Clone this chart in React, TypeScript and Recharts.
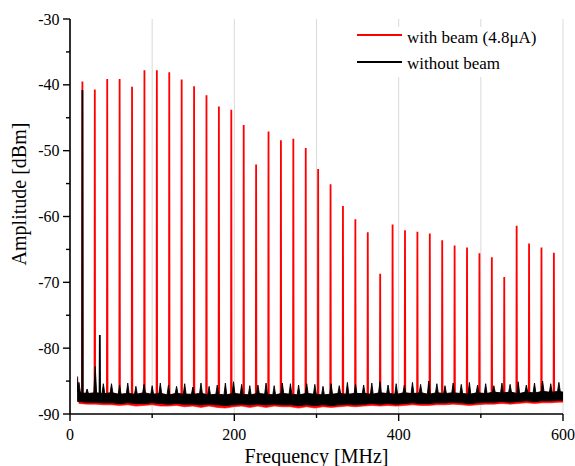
import React from 'react';
import { ComposedChart, Area, XAxis, YAxis, CartesianGrid, Legend } from 'recharts';

const FONT = '"Liberation Serif", "Times New Roman", Times, serif';

// Beam harmonics (red spikes)
const redFreq = [15.1, 30.2, 45.3, 60.4, 75.5, 90.6, 105.7, 120.8, 135.9, 151.0, 166.1, 181.2, 196.3, 211.4, 226.5, 241.6, 256.7, 271.8, 286.9, 302.0, 317.1, 332.2, 347.3, 362.4, 377.5, 392.6, 407.7, 422.8, 437.9, 453.0, 468.1, 483.2, 498.3, 513.4, 528.5, 543.6, 558.7, 573.8, 588.9];
const redPeak = [-39.5, -40.7, -39.1, -39.1, -40.3, -37.8, -37.8, -38.1, -39.2, -40.2, -41.6, -43.3, -43.8, -46.1, -52.1, -47.1, -48.4, -48.2, -49.6, -52.8, -55.1, -58.4, -60.4, -62.4, -68.7, -61.2, -62.1, -62.3, -62.6, -63.6, -64.4, -64.7, -65.6, -66.2, -69.2, -61.4, -64.1, -64.7, -65.5];

// Spikes without beam
const blackSpikeFreq = [15.1, 36.3];
const blackSpikePeak = [-40.8, -78.0];

const spikeBase = -87.5;

// Noise floor, sampled at the small periodic bumps
const bumpFreq = [10.9, 20.8, 30.7, 40.6, 50.5, 60.4, 70.3, 80.2, 90.1, 100.0,
  109.9, 119.8, 129.7, 139.6, 149.5, 159.4, 169.3, 179.2, 189.1, 199.0,
  208.9, 218.8, 228.7, 238.6, 248.5, 258.4, 268.3, 278.2, 288.1, 298.0,
  307.9, 317.8, 327.7, 337.6, 347.5, 357.4, 367.3, 377.2, 387.1, 397.0,
  406.9, 416.8, 426.7, 436.6, 446.5, 456.4, 466.3, 476.2, 486.1, 496.0,
  505.9, 515.8, 525.7, 535.6, 545.5, 555.4, 565.3, 575.2, 585.1, 595.0];
const blackPeak = [-85.2, -86.2, -82.8, -85.4, -85.4, -85.6, -85.3, -85.8, -85.5, -85.7,
  -85.3, -85.6, -85.8, -85.4, -85.9, -85.3, -85.8, -85.6, -85.3, -85.1,
  -85.5, -85.7, -85.6, -85.3, -85.7, -85.3, -85.4, -85.6, -85.4, -85.5,
  -85.8, -85.4, -85.7, -85.2, -85.5, -85.6, -85.3, -85.1, -85.6, -85.4,
  -85.6, -85.2, -85.5, -85.0, -85.4, -85.7, -85.3, -85.5, -85.2, -85.6,
  -85.4, -85.7, -85.3, -85.5, -85.1, -85.6, -85.3, -85.0, -85.4, -85.2];
const blackValley = [-86.7, -86.9, -86.8, -86.9,
  -86.8, -87.0, -86.9, -87.0, -86.8, -87.0, -86.9, -87.1, -86.9, -87.0,
  -87.0, -86.9, -87.1, -87.0, -87.1, -86.9, -87.0, -87.1, -86.9, -87.0, -87.1, -86.9,
  -87.0, -87.1, -86.9, -87.0, -87.1, -87.0, -86.9, -87.0, -86.9,
  -86.9, -87.0, -86.8, -86.9, -87.0, -86.8, -86.9, -86.8, -87.0, -86.8,
  -86.9, -86.8, -86.9, -87.0, -86.8, -86.9, -86.7,
  -86.8, -86.7, -86.9, -86.7, -86.8, -86.6, -86.7, -86.6];
const blackFloor = [-88.1, -88.2, -88.2, -88.3,
  -88.3, -88.4, -88.3, -88.4, -88.4, -88.3, -88.4, -88.5, -88.4, -88.5,
  -88.5, -88.6, -88.5, -88.6, -88.7, -88.6, -88.5, -88.6, -88.5, -88.6, -88.5, -88.6,
  -88.6, -88.7, -88.6, -88.7, -88.6, -88.7, -88.6, -88.5, -88.6,
  -88.5, -88.4, -88.5, -88.4, -88.5, -88.4, -88.3, -88.4, -88.4, -88.3,
  -88.3, -88.2, -88.3, -88.4, -88.3, -88.2, -88.2,
  -88.1, -88.2, -88.1, -88.0, -88.1, -88.0, -88.0, -87.9];
const redFloor = [-88.4, -88.5, -88.5, -88.6,
  -88.6, -88.7, -88.6, -88.8, -88.7, -88.6, -88.8, -88.8, -88.7, -88.9,
  -88.8, -89.0, -88.8, -89.0, -89.1, -88.9, -88.8, -89.0, -88.8, -89.0, -88.8, -88.9,
  -88.9, -89.1, -88.9, -89.1, -88.9, -89.0, -88.9, -88.8, -88.9,
  -88.8, -88.7, -88.8, -88.7, -88.8, -88.7, -88.6, -88.7, -88.7, -88.6,
  -88.6, -88.5, -88.6, -88.7, -88.6, -88.5, -88.5,
  -88.4, -88.5, -88.4, -88.3, -88.4, -88.3, -88.3, -88.2];

// Start / end of the sweep
const blackStart = { f: 9.3, lo: -85.2, hi: -84.3 };
const redStart = { f: 9.2, lo: -85.6, hi: -84.6 };
const blackEnd = { f: 600, lo: -87.9, hi: -86.7 };
const redEnd = { f: 600, lo: -88.2, hi: -86.7 };

const bumpHalfWidth = 1.7;
const spikeHalfWidth = 0.35;

const xTicks = [0, 100, 200, 300, 400, 500, 600];
const xLabeled = [0, 200, 400, 600];
const yTicks = [-90, -85, -80, -75, -70, -65, -60, -55, -50, -45, -40, -35, -30];
const yLabeled = [-90, -80, -70, -60, -50, -40, -30];

// Tables built from the arrays
const blackBand = [
  { f: blackStart.f, range: [blackStart.lo, blackStart.hi] },
  ...bumpFreq.flatMap((f, k) => [
    { f: f - bumpHalfWidth, range: [blackFloor[k], blackValley[k]] },
    { f, range: [blackFloor[k], blackPeak[k]] },
    { f: f + bumpHalfWidth, range: [blackFloor[k], blackValley[k]] },
  ]),
  { f: blackEnd.f, range: [blackEnd.lo, blackEnd.hi] },
];
const redBand = [
  { f: redStart.f, range: [redStart.lo, redStart.hi] },
  ...bumpFreq.map((f, k) => ({ f, range: [redFloor[k], blackValley[k]] })),
  { f: redEnd.f, range: [redEnd.lo, redEnd.hi] },
];
const spikeRows = (freqs: number[], peaks: number[]) =>
  freqs.flatMap((f, i) => [
    { f: f - spikeHalfWidth, range: [spikeBase, spikeBase] },
    { f, range: [spikeBase, peaks[i]] },
    { f: f + spikeHalfWidth, range: [spikeBase, spikeBase] },
  ]);
const redSpikes = spikeRows(redFreq, redPeak);
const blackSpikes = spikeRows(blackSpikeFreq, blackSpikePeak);

const BottomTick = (props: any) => {
  const { x, y, payload } = props;
  const major = xLabeled.includes(payload.value);
  return (
    <g>
      <line x1={x} x2={x} y1={y} y2={y + (major ? 7 : 4)} stroke="#000" strokeWidth={1.4} />
      {major && (
        <text x={x} y={y + 26} textAnchor="middle" fontSize={16} fontFamily={FONT} fill="#000">
          {payload.value}
        </text>
      )}
    </g>
  );
};
const TopTick = (props: any) => {
  const { x, y, payload } = props;
  const major = xLabeled.includes(payload.value);
  return <line x1={x} x2={x} y1={y} y2={y + (major ? 7 : 4)} stroke="#000" strokeWidth={1.4} />;
};
const LeftTick = (props: any) => {
  const { x, y, payload } = props;
  const major = yLabeled.includes(payload.value);
  return (
    <g>
      <line x1={x - (major ? 7 : 4)} x2={x} y1={y} y2={y} stroke="#000" strokeWidth={1.4} />
      {major && (
        <text x={x - 10.5} y={y + 5.5} textAnchor="end" fontSize={16} fontFamily={FONT} fill="#000">
          {payload.value}
        </text>
      )}
    </g>
  );
};
const RightTick = (props: any) => {
  const { x, y, payload } = props;
  const major = yLabeled.includes(payload.value);
  return <line x1={x - (major ? 7 : 4)} x2={x} y1={y} y2={y} stroke="#000" strokeWidth={1.4} />;
};

const XTitle = (props: any) => {
  const vb = props.viewBox || { x: 70, y: 414, width: 493, height: 52 };
  return (
    <text x={vb.x + vb.width / 2} y={vb.y + 48.5} textAnchor="middle" fontSize={20} fontFamily={FONT} fill="#000">
      Frequency [MHz]
    </text>
  );
};
const YTitle = (props: any) => {
  const vb = props.viewBox || { x: 0, y: 19, width: 70, height: 395 };
  const cx = vb.x + 25.5;
  const cy = vb.y + vb.height / 2 - 22.5;
  return (
    <text x={cx} y={cy} transform={`rotate(-90 ${cx} ${cy})`} textAnchor="middle" fontSize={20} fontFamily={FONT} fill="#000">
      Amplitude [dBm]
    </text>
  );
};

const legendItems = [
  { label: 'with beam (4.8\u03bcA)', color: '#ff0000' },
  { label: 'without beam', color: '#000000' },
];

const LegendBox = () => (
  <div style={{ position: 'relative', width: 214, height: 50, background: '#fff', fontFamily: FONT }}>
    {legendItems.map((it, i) => (
      <React.Fragment key={it.label}>
        <div style={{ position: 'absolute', left: 17, top: 7 + i * 27, width: 45, height: 2, background: it.color }} />
        <div style={{ position: 'absolute', left: 67, top: 1.5 + i * 26.5, fontSize: 17, lineHeight: '17px', whiteSpace: 'nowrap', color: '#000' }}>
          {it.label}
        </div>
      </React.Fragment>
    ))}
  </div>
);

export default function App() {
  return (
    <div style={{ position: 'absolute', left: 0, top: 0, width: 575, height: 466, background: '#fff' }}>
      <ComposedChart width={575} height={466} margin={{ top: 19, right: 12, bottom: 0, left: 0 }} style={{ fontFamily: FONT }}>
        <CartesianGrid horizontal={false} stroke="#dadada" strokeWidth={1} />
        <XAxis
          dataKey="f"
          type="number"
          domain={[0, 600]}
          allowDataOverflow
          ticks={xTicks}
          interval={0}
          height={52}
          tickSize={0}
          tickMargin={0}
          axisLine={{ stroke: '#000', strokeWidth: 1.6 }}
          tickLine={false}
          tick={<BottomTick />}
          label={<XTitle />}
        />
        <XAxis
          xAxisId="top"
          orientation="top"
          type="number"
          domain={[0, 600]}
          allowDataOverflow
          ticks={xTicks}
          interval={0}
          height={0}
          tickSize={0}
          tickMargin={0}
          axisLine={{ stroke: '#000', strokeWidth: 1.6 }}
          tickLine={false}
          tick={<TopTick />}
        />
        <YAxis
          type="number"
          domain={[-90, -30]}
          allowDataOverflow
          ticks={yTicks}
          interval={0}
          width={70}
          tickSize={0}
          tickMargin={0}
          axisLine={{ stroke: '#000', strokeWidth: 1.6 }}
          tickLine={false}
          tick={<LeftTick />}
          label={<YTitle />}
        />
        <YAxis
          yAxisId="right"
          orientation="right"
          type="number"
          domain={[-90, -30]}
          allowDataOverflow
          ticks={yTicks}
          interval={0}
          width={0}
          tickSize={0}
          tickMargin={0}
          axisLine={{ stroke: '#000', strokeWidth: 1.6 }}
          tickLine={false}
          tick={<RightTick />}
        />
        <Area data={redBand} dataKey="range" type="linear" stroke="#ff0000" strokeWidth={0.6} fill="#ff0000" fillOpacity={1} isAnimationActive={false} dot={false} activeDot={false} />
        <Area data={redSpikes} dataKey="range" type="linear" stroke="#ff0000" strokeWidth={1.8} fill="#ff0000" fillOpacity={1} isAnimationActive={false} dot={false} activeDot={false} />
        <Area data={blackBand} dataKey="range" type="linear" stroke="#000" strokeWidth={0.9} fill="#000" fillOpacity={1} isAnimationActive={false} dot={false} activeDot={false} />
        <Area data={blackSpikes} dataKey="range" type="linear" stroke="#000" strokeWidth={1.8} fill="#000" fillOpacity={1} isAnimationActive={false} dot={false} activeDot={false} />
        <Legend
          layout="vertical"
          align="center"
          verticalAlign="middle"
          wrapperStyle={{ position: 'absolute', left: 340, top: 27, width: 214, height: 50 }}
          content={() => <LegendBox />}
        />
      </ComposedChart>
    </div>
  );
}
